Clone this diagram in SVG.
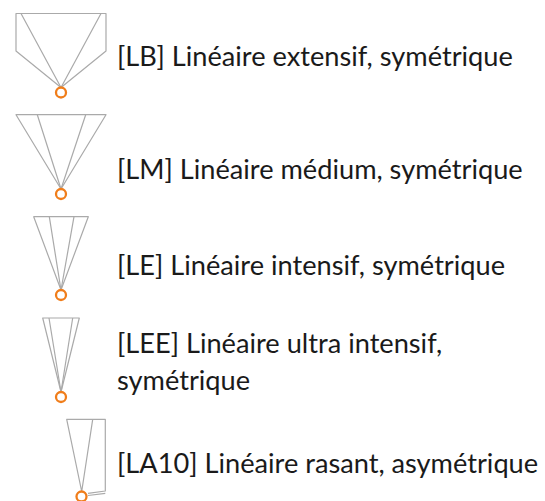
<svg xmlns="http://www.w3.org/2000/svg" width="545" height="501" viewBox="0 0 545 501">
<style>
.beam{fill:none;stroke:#aaaaaa;stroke-width:1.2;stroke-linejoin:round}
.src{fill:#ffffff;stroke:#f07d1a;stroke-width:2.3}
.lbl{font-family:Lato,"Noto Sans",sans-serif;font-size:27.2px;fill:#1a1a1a}
</style>
<rect width="545" height="501" fill="#ffffff"/>
<g id="LB">
<polygon class="beam" points="16,13.5 106,13.5 106,51 61,87.5 16,51"/>
<path class="beam" d="M21,13.5 L61,87.5 M101,13.5 L61,87.5"/>
<circle class="src" cx="61" cy="92.5" r="5"/>
<text class="lbl" x="117" y="66">[LB] Linéaire extensif, symétrique</text>
</g>
<g id="LM">
<polygon class="beam" points="16,114.7 106,114.7 61,189"/>
<path class="beam" d="M37.3,114.7 L61,189 M85.7,114.7 L61,189"/>
<circle class="src" cx="61" cy="194" r="5"/>
<text class="lbl" x="117" y="179">[LM] Linéaire médium, symétrique</text>
</g>
<g id="LE">
<polygon class="beam" points="33.7,216.7 88.3,216.7 61,290"/>
<path class="beam" d="M49.3,216.7 L61,290 M74,216.7 L61,290"/>
<circle class="src" cx="61" cy="295" r="5"/>
<text class="lbl" x="117" y="275">[LE] Linéaire intensif, symétrique</text>
</g>
<g id="LEE">
<polygon class="beam" points="42.7,318 79.3,318 61,392"/>
<path class="beam" d="M49,318 L61,392 M72.7,318 L61,392"/>
<circle class="src" cx="61" cy="397" r="5"/>
<text class="lbl" x="117" y="353">[LEE] Linéaire ultra intensif,</text>
<text class="lbl" x="117" y="390">symétrique</text>
</g>
<g id="LA10">
<path class="beam" d="M81.7,491.5 L66.7,419.3 L105.3,419.3 L105.3,491 L88,493.3 M92.7,419.3 L81.7,491.5 M105.3,493.3 L88,495.5"/>
<circle class="src" cx="81.5" cy="496.5" r="5"/>
<text class="lbl" x="117" y="473">[LA10] Linéaire rasant, asymétrique</text>
</g>
<g id="connectors"/>
</svg>
